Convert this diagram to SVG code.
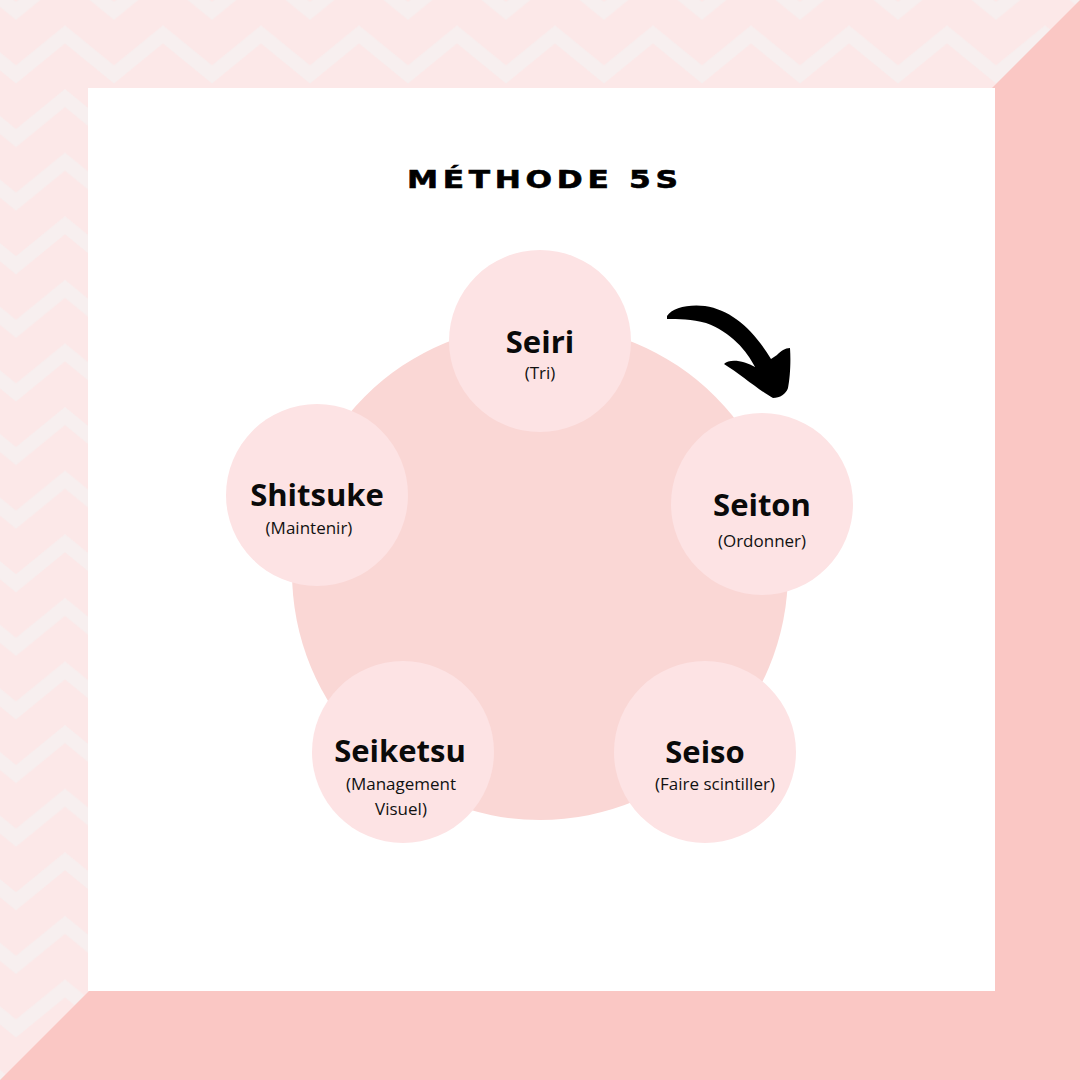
<svg xmlns="http://www.w3.org/2000/svg" width="1080" height="1080" viewBox="0 0 1080 1080">
<defs>
<pattern id="zig" patternUnits="userSpaceOnUse" x="16" y="88" width="98" height="63.6">
<path d="M-49,10 L0,50 L49,10 L98,50 L147,10" fill="none" stroke="#F6F0F0" stroke-width="14" stroke-linejoin="miter" opacity="0.85"/>
</pattern>
<style>
.big{font-family:"Open Sans","Liberation Sans",sans-serif;font-weight:700;font-size:31px;fill:#0a0a0a;text-anchor:middle}
.sub{font-family:"Open Sans","Liberation Sans",sans-serif;font-weight:400;font-size:17px;fill:#111;text-anchor:middle}
.node{fill:#FDE3E4}
</style>
</defs>
<rect width="1080" height="1080" fill="#FCE8E8"/>
<rect width="1080" height="1080" fill="url(#zig)"/>
<polygon points="1080,0 1080,1080 0,1080" fill="#FAC7C4"/>
<rect x="88" y="88" width="907" height="903" fill="#FFFFFF"/>
<text transform="scale(1.25,1)" x="325.6" y="188" font-family="'DejaVu Sans',Inter,sans-serif" font-weight="700" font-size="25" textLength="216.8" lengthAdjust="spacing" fill="#000" stroke="#000" stroke-width="0.6">MÉTHODE 5S</text>
<circle id="hub" cx="540" cy="572" r="248" fill="#FAD7D5"/>
<g id="connectors">
<path d="M667,316 C672,308 688,304 705,306 C731,310 753,329 771,359 L777,355 C781,351 785,348 790,348 C791,362 790,378 788,388 C786,394 780,398 773,398 C760,391 740,374 724,364 C730,358 745,361 755,367 C747,351 731,332 706,323 C692,319 678,319 667,319 Z" fill="#000"/>
</g>
<g id="seiri">
<circle class="node" cx="540" cy="341" r="91"/>
<text class="big" x="540" y="353">Seiri</text>
<text class="sub" x="540" y="379">(Tri)</text>
</g>
<g id="seiton">
<circle class="node" cx="762" cy="504" r="91"/>
<text class="big" x="762" y="516">Seiton</text>
<text class="sub" x="762" y="547">(Ordonner)</text>
</g>
<g id="seiso">
<circle class="node" cx="705" cy="752" r="91"/>
<text class="big" x="705" y="763">Seiso</text>
<text class="sub" x="715" y="790">(Faire scintiller)</text>
</g>
<g id="seiketsu">
<circle class="node" cx="403" cy="752" r="91"/>
<text class="big" x="400" y="762">Seiketsu</text>
<text class="sub" x="401" y="790">(Management</text>
<text class="sub" x="401" y="815">Visuel)</text>
</g>
<g id="shitsuke">
<circle class="node" cx="317" cy="495" r="91"/>
<text class="big" x="317" y="506">Shitsuke</text>
<text class="sub" x="309" y="534">(Maintenir)</text>
</g>
</svg>
